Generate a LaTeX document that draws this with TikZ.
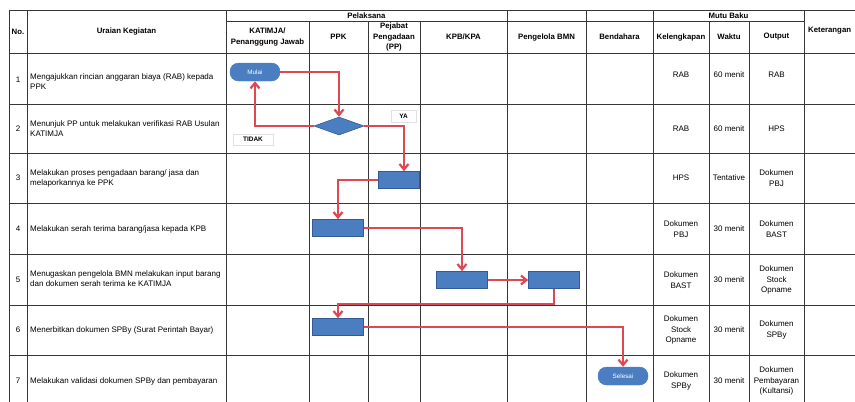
\documentclass[tikz,border=0pt]{standalone}
\usepackage{fontspec}
\setmainfont{Liberation Sans}
\usetikzlibrary{shapes.geometric,arrows.meta}
\definecolor{flowred}{RGB}{221,72,82}
\definecolor{boxblue}{RGB}{74,126,193}
\definecolor{boxedge}{RGB}{52,90,150}
\definecolor{gridc}{RGB}{55,55,55}
\tikzset{
  tline/.style={draw=gridc,line width=0.7pt},
  hdr/.style={font=\fontsize{7.8}{10.5}\selectfont\bfseries,align=center,inner sep=0pt},
  txt/.style={font=\fontsize{8}{10.6}\selectfont,align=center,inner sep=0pt},
  desc/.style={font=\fontsize{8}{10}\selectfont,align=left,anchor=west,inner sep=0pt},
  proc/.style={draw=boxedge,fill=boxblue,line width=0.6pt,minimum width=51pt,minimum height=17pt,inner sep=0pt},
  term/.style={draw=boxblue,fill=boxblue,rounded corners=8.5pt,minimum width=50pt,minimum height=18pt,inner sep=0pt,text=white,font=\fontsize{6.3}{7}\selectfont},
  decbox/.style={draw=boxedge,fill=boxblue,line width=0.6pt,shape=diamond,minimum width=50pt,minimum height=18pt,inner sep=0pt,aspect=2.8},
  flow/.style={draw=flowred,line width=2.2pt,line join=miter,-{Straight Barb[length=5.5pt,width=9pt]}},
  lbl/.style={draw=black!12,fill=white,font=\fontsize{6.5}{7}\selectfont\bfseries,inner sep=0pt}
}
\begin{document}
\begin{tikzpicture}[x=1pt,y=-1pt]
\useasboundingbox (0,0) rectangle (855,402);
\fill[white] (0,0) rectangle (855,402);
\begin{scope}
\clip (0,0) rectangle (855,402);
% horizontal lines
\foreach \yy in {10,53,104,153,203,254,305,355}
  \draw[tline] (9,\yy) -- (870,\yy);
\draw[tline] (226,21) -- (804,21);
% vertical lines
\foreach \xx in {9,27,226,507,586,653,804}
  \draw[tline] (\xx,10) -- (\xx,410);
\foreach \xx in {309,368,420,709,749}
  \draw[tline] (\xx,21) -- (\xx,410);

% header
\node[hdr] (hno) at (18,31.5) {No.};
\node[hdr] (hur) at (126.5,31.5) {Uraian Kegiatan};
\node[hdr] (hpel) at (366.5,15.5) {Pelaksana};
\node[hdr] (hkat) at (267.5,37) {KATIMJA/\\Penanggung Jawab};
\node[hdr] (hppk) at (338.5,37) {PPK};
\node[hdr] (hpp) at (394,37) {Pejabat\\Pengadaan\\(PP)};
\node[hdr] (hkpb) at (463.5,37) {KPB/KPA};
\node[hdr] (hbmn) at (546.5,37) {Pengelola BMN};
\node[hdr] (hben) at (619.5,37) {Bendahara};
\node[hdr] (hmb) at (728.5,15.5) {Mutu Baku};
\node[hdr] (hkel) at (681,37) {Kelengkapan};
\node[hdr] (hwak) at (729,37) {Waktu};
\node[hdr] (hout) at (776.5,37) {Output};
\node[hdr,anchor=west] (hket) at (808,31) {Keterangan};

% row numbers
\node[txt] (n1) at (18,80) {1};
\node[txt] (n2) at (18,128.5) {2};
\node[txt] (n3) at (18,178) {3};
\node[txt] (n4) at (18,228.5) {4};
\node[txt] (n5) at (18,279.5) {5};
\node[txt] (n6) at (18,330) {6};
\node[txt] (n7) at (18,381) {7};

% descriptions
\node[desc] (d1) at (30,82) {Mengajukkan rincian anggaran biaya (RAB) kepada\\PPK};
\node[desc] (d2) at (30,128.5) {Menunjuk PP untuk melakukan verifikasi RAB Usulan\\KATIMJA};
\node[desc] (d3) at (30,178) {Melakukan proses pengadaan barang/ jasa dan\\melaporkannya ke PPK};
\node[desc] (d4) at (30,229) {Melakukan serah terima barang/jasa kepada KPB};
\node[desc] (d5) at (30,279) {Menugaskan pengelola BMN melakukan input barang\\dan dokumen serah terima ke KATIMJA};
\node[desc] (d6) at (30,330) {Menerbitkan dokumen SPBy (Surat Perintah Bayar)};
\node[desc] (d7) at (30,381) {Melakukan validasi dokumen SPBy dan pembayaran};

% mutu baku
\node[txt] (k1) at (681,75) {RAB};
\node[txt] (w1) at (729,75) {60 menit};
\node[txt] (o1) at (776.5,75) {RAB};
\node[txt] (k2) at (681,128.5) {RAB};
\node[txt] (w2) at (729,128.5) {60 menit};
\node[txt] (o2) at (776.5,128.5) {HPS};
\node[txt] (k3) at (681,178) {HPS};
\node[txt] (w3) at (729,178) {Tentative};
\node[txt] (o3) at (776.5,178) {Dokumen\\PBJ};
\node[txt] (k4) at (681,229) {Dokumen\\PBJ};
\node[txt] (w4) at (729,229) {30 menit};
\node[txt] (o4) at (776.5,229) {Dokumen\\BAST};
\node[txt] (k5) at (681,280) {Dokumen\\BAST};
\node[txt] (w5) at (729,280) {30 menit};
\node[txt] (o5) at (776.5,280) {Dokumen\\Stock\\Opname};
\node[txt] (k6) at (681,330) {Dokumen\\Stock\\Opname};
\node[txt] (w6) at (729,330) {30 menit};
\node[txt] (o6) at (776.5,330) {Dokumen\\SPBy};
\node[txt] (k7) at (681,381) {Dokumen\\SPBy};
\node[txt] (w7) at (729,381) {30 menit};
\node[txt] (o7) at (776.5,381) {Dokumen\\Pembayaran\\(Kultansi)};

% flow shapes
\node[term] (mulai) at (255,72) {Mulai};
\node[decbox] (dec) at (339,126) {};
\node[proc,minimum width=41pt] (pp3) at (399,180) {};
\node[proc] (ppk4) at (338,228) {};
\node[proc] (kpb5) at (462,280) {};
\node[proc] (bmn5) at (554,280) {};
\node[proc] (ppk6) at (338,327) {};
\node[term] (selesai) at (623,376) {Selesai};
\coordinate (bend5) at ([yshift=-15pt]bmn5.south);

% labels
\node[lbl,minimum width=25pt,minimum height=12pt] (ya) at (403.5,116) {YA};
\node[lbl,minimum width=40pt,minimum height=11pt] (tidak) at (253,139.5) {TIDAK};

% connectors
\draw[flow] (mulai.east) -| (dec.north);
\draw[flow] (dec.west) -| (mulai.south);
\draw[flow] (dec.east) -| ([xshift=5pt]pp3.north);
\draw[flow] (pp3.west) -| (ppk4.north);
\draw[flow] (ppk4.east) -| (kpb5.north);
\draw[flow] (kpb5.east) -- (bmn5.west);
\draw[flow] (bmn5.south) -- (bend5) -| (ppk6.north);
\draw[flow] (ppk6.east) -| (selesai.north);
\end{scope}
\end{tikzpicture}
\end{document}
